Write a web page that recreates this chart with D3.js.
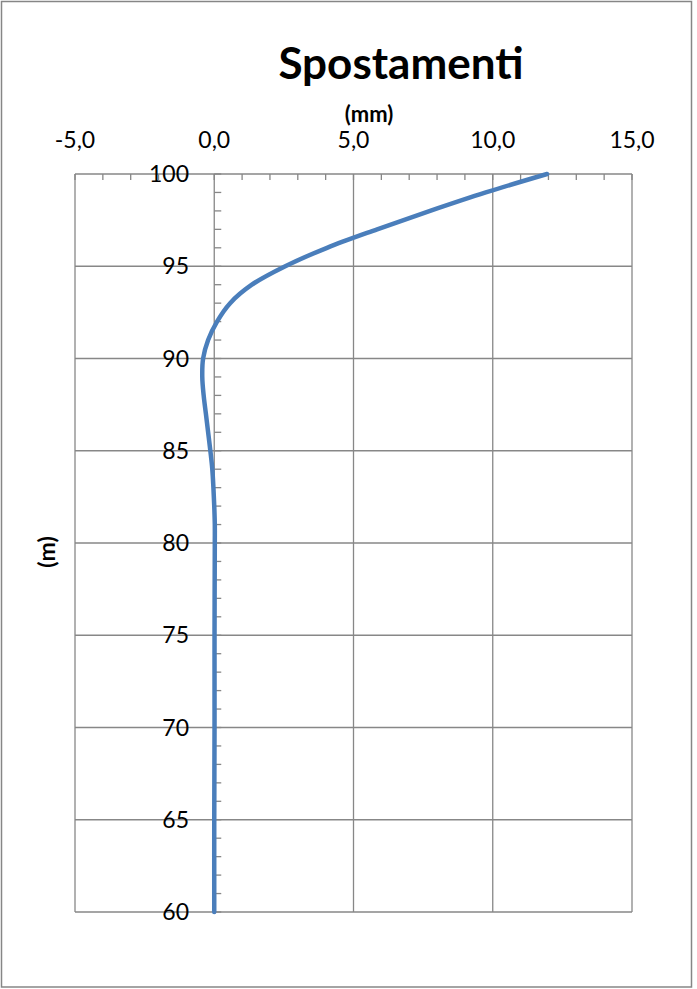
<!DOCTYPE html>
<html>
<head>
<meta charset="utf-8">
<script src="https://cdn.jsdelivr.net/npm/d3@7"></script>
<style>
  body { margin: 0; background: #fff; }
  text { font-family: Lato, "Open Sans", sans-serif; fill: #000; }
</style>
</head>
<body>
<div id="chart"></div>
<script>
// profondità (m) e spostamenti (mm)
const depth = [100, 99, 98, 97, 96, 95, 94, 93, 92, 91, 90, 89, 88, 87, 86, 85, 84, 83, 82, 81, 80, 75, 70, 65, 60];
const displ = [11.95, 9.75, 7.75, 5.85, 4.05, 2.55, 1.35, 0.57, 0.1, -0.22, -0.4, -0.43, -0.38, -0.30, -0.22, -0.14, -0.07, -0.03, 0.0, 0.02, 0.02, 0.01, 0.01, 0.0, 0.0];
const xTicks = [-5, 0, 5, 10, 15];
const yTicks = [60, 65, 70, 75, 80, 85, 90, 95, 100];

const width = 697, height = 989;
const svg = d3.select("#chart").append("svg")
    .attr("width", width)
    .attr("height", height);

// cornice esterna
svg.append("rect")
   .attr("x", 1.5).attr("y", 1.5)
   .attr("width", 690).attr("height", 985.5)
   .attr("fill", "none")
   .attr("stroke", "#868686")
   .attr("stroke-width", 1.5);

const x = d3.scaleLinear().domain([-5, 15]).range([75, 632]);
const y = d3.scaleLinear().domain([60, 100]).range([912, 174]);
const gridColor = "#878787";

// griglia
svg.append("g").selectAll("line")
   .data(yTicks)
   .enter().append("line")
   .attr("x1", x(-5)).attr("x2", x(15))
   .attr("y1", d => y(d)).attr("y2", d => y(d))
   .attr("stroke", gridColor).attr("stroke-width", 1.3);

svg.append("g").selectAll("line")
   .data(xTicks)
   .enter().append("line")
   .attr("x1", d => x(d)).attr("x2", d => x(d))
   .attr("y1", y(100)).attr("y2", y(60))
   .attr("stroke", gridColor).attr("stroke-width", 1.3);

// tacche secondarie asse x (in alto, verso il basso)
svg.append("g").selectAll("line")
   .data(d3.range(-5, 16, 1))
   .enter().append("line")
   .attr("x1", d => x(d)).attr("x2", d => x(d))
   .attr("y1", y(100)).attr("y2", y(100) + 6)
   .attr("stroke", gridColor).attr("stroke-width", 1.3);

// tacche secondarie asse y (sullo zero, verso destra)
svg.append("g").selectAll("line")
   .data(d3.range(60, 101, 1))
   .enter().append("line")
   .attr("x1", x(0)).attr("x2", x(0) + 7)
   .attr("y1", d => y(d)).attr("y2", d => y(d))
   .attr("stroke", gridColor).attr("stroke-width", 1.3);

// etichette asse x
const fmt = d => d.toFixed(1).replace(".", ",");
svg.append("g").selectAll("text")
   .data(xTicks)
   .enter().append("text")
   .attr("x", d => x(d))
   .attr("y", 148)
   .attr("text-anchor", "middle")
   .attr("font-size", 23)
   .text(fmt);

// etichette asse y
svg.append("g").selectAll("text")
   .data(yTicks)
   .enter().append("text")
   .attr("x", 189)
   .attr("y", d => y(d))
   .attr("dy", "0.35em")
   .attr("text-anchor", "end")
   .attr("font-size", 23)
   .text(d => d);

// curva
const series = depth.map((d, i) => ({ depth: d, v: displ[i] }));
const line = d3.line()
    .x(d => x(d.v))
    .y(d => y(d.depth))
    .curve(d3.curveCatmullRom.alpha(0.5));

svg.append("path")
   .datum(series)
   .attr("d", line)
   .attr("fill", "none")
   .attr("stroke", "#4a7ebb")
   .attr("stroke-width", 4.5)
   .attr("stroke-linecap", "round")
   .attr("stroke-linejoin", "round");

// titoli
svg.append("text")
   .attr("x", 401).attr("y", 79)
   .attr("text-anchor", "middle")
   .attr("font-size", 44)
   .attr("font-weight", "bold")
   .text("Spostamenti");

svg.append("text")
   .attr("x", 369).attr("y", 122)
   .attr("text-anchor", "middle")
   .attr("font-size", 22)
   .attr("font-weight", "bold")
   .text("(mm)");

svg.append("text")
   .attr("transform", "translate(55,552) rotate(-90)")
   .attr("text-anchor", "middle")
   .attr("font-size", 23)
   .attr("font-weight", "bold")
   .text("(m)");
</script>
</body>
</html>
